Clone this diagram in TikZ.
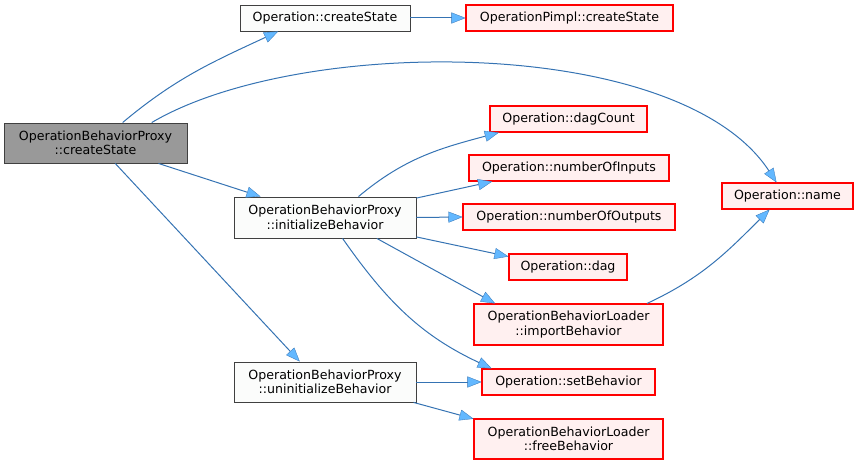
\documentclass[tikz,border=0pt]{standalone}
\usepackage{fontspec}
\setmainfont{DejaVu Sans}
\usepackage{tikz}
\usetikzlibrary{shapes}
\usetikzlibrary{arrows.meta}
\definecolor{edgeline}{HTML}{3573B3}
\definecolor{edgehead}{HTML}{63B8FF}
\definecolor{rootfill}{HTML}{999999}
\definecolor{funcfill}{HTML}{FBFCFB}
\definecolor{extfill}{HTML}{FFF0F0}
\tikzset{
	base node/.style={rectangle,inner sep=0pt,align=center,font=\fontsize{12.6}{14.5}\selectfont,line width=0.9pt},
	root node/.style={base node,draw={rgb,255:red,64;green,64;blue,64},fill=rootfill},
	func node/.style={base node,draw={rgb,255:red,64;green,64;blue,64},fill=funcfill},
	ext node/.style={base node,draw=red,fill=extfill,line width=1.1pt},
	call/.style={draw=edgeline,line width=1pt,-{Triangle[length=14pt,width=11pt,fill=edgehead,line width=0.3pt]}}
}

\begin{document}
\begin{tikzpicture}[x=1pt,y=-1pt]
            \useasboundingbox (0,0) rectangle (859,465);
            % callers
            \node [root node,minimum width=183pt,minimum height=40pt] (A) at (95.5,143) {OperationBehaviorProxy\\::createState};
            \node [func node,minimum width=170pt,minimum height=26pt] (B) at (325,18) {Operation::createState};
            \node [func node,minimum width=182pt,minimum height=41pt] (E) at (325,217.5) {OperationBehaviorProxy\\::initializeBehavior};
            \node [func node,minimum width=182pt,minimum height=40pt] (L) at (325,382) {OperationBehaviorProxy\\::uninitializeBehavior};
            % callees
            \node [ext node,minimum width=207pt,minimum height=26pt] (C) at (569.5,18) {OperationPimpl::createState};
            \node [ext node,minimum width=131pt,minimum height=26pt] (D) at (787.5,196) {Operation::name};
            \node [ext node,minimum width=157pt,minimum height=26pt] (F) at (568.5,119) {Operation::dagCount};
            \node [ext node,minimum width=200pt,minimum height=26pt] (G) at (569,168) {Operation::numberOfInputs};
            \node [ext node,minimum width=212pt,minimum height=26pt] (H) at (569,217) {Operation::numberOfOutputs};
            \node [ext node,minimum width=118pt,minimum height=26pt] (I) at (568,267) {Operation::dag};
            \node [ext node,minimum width=189pt,minimum height=41pt] (J) at (568.5,324.5) {OperationBehaviorLoader\\::importBehavior};
            \node [ext node,minimum width=173pt,minimum height=26pt] (K) at (568.5,382) {Operation::setBehavior};
            \node [ext node,minimum width=189pt,minimum height=40pt] (M) at (568.5,439) {OperationBehaviorLoader\\::freeBehavior};
            % calls
            \draw [call] (A.37) to[out=40,in=205] (B.196);
            \draw [call] (A.20) .. controls (300,35) and (680,35) .. (D.129);
            \draw [call] (A.-18) -- (E.162);
            \draw [call] (A.-46) -- (L.141);
            \draw [call] (B.east) -- (C.west);
            \draw [call] (E.32) to[out=40,in=195] (F.191);
            \draw [call] (E.12) -- (G.190);
            \draw [call] (E.east) -- (H.west);
            \draw [call] (E.-12) -- (I.170);
            \draw [call] (E.-22) -- (J.164);
            \draw [call] (E.-50) to[out=-55,in=155] (K.170);
            \draw [call] (J.15) to[out=25,in=225] (D.217);
            \draw [call] (L.east) -- (K.west);
            \draw [call] (L.-13) -- (M.168);
\end{tikzpicture}
\end{document}
